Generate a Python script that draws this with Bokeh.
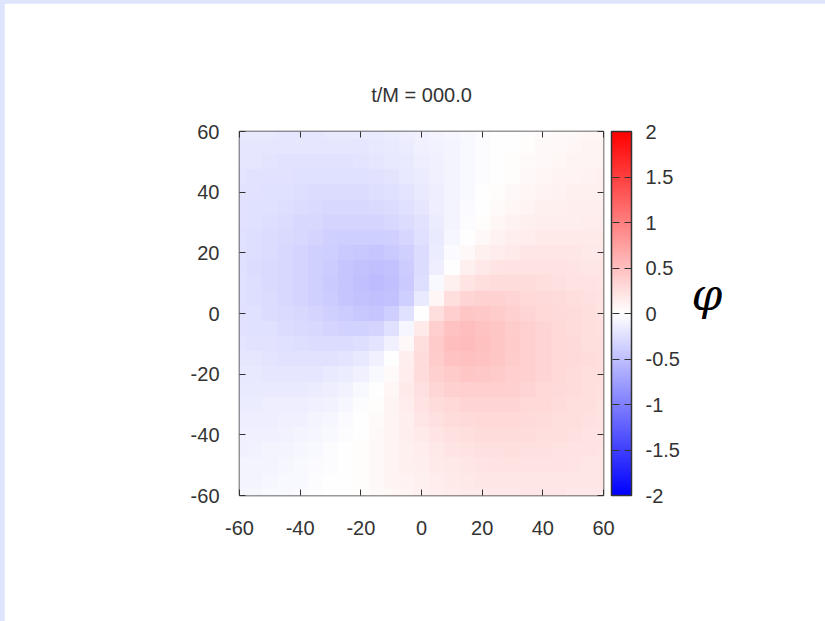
import numpy as np
from bokeh.plotting import figure
from bokeh.models import (LinearColorMapper, ColorBar, FixedTicker, LinearAxis,
                          CustomJSTickFormatter)
from bokeh.embed import file_html
from bokeh.resources import INLINE

# ---------------- data ----------------
title_text = "t/M = 000.0"
cbar_title = "φ"
axis_ticks = [-60, -40, -20, 0, 20, 40, 60]
cbar_ticks = [-2, -1.5, -1, -0.5, 0, 0.5, 1, 1.5, 2]
phi_low, phi_high = -2, 2

# sample points every 5 units
grid_x = [-60, -55, -50, -45, -40, -35, -30, -25, -20, -15, -10, -5, 0,
          5, 10, 15, 20, 25, 30, 35, 40, 45, 50, 55, 60]
grid_y = [60, 55, 50, 45, 40, 35, 30, 25, 20, 15, 10, 5, 0,
          -5, -10, -15, -20, -25, -30, -35, -40, -45, -50, -55, -60]

# phi read row by row (top row y=60 first); columns are x = -60 ... 60
phi_y60 = [-0.18, -0.18, -0.18, -0.19, -0.19, -0.19, -0.18, -0.18, -0.17, -0.16, -0.15, -0.13, -0.11, -0.09, -0.07, -0.05, -0.03, -0.01, 0.01, 0.02, 0.04, 0.05, 0.06, 0.07, 0.07]
phi_y55 = [-0.19, -0.19, -0.20, -0.20, -0.20, -0.20, -0.20, -0.20, -0.19, -0.18, -0.16, -0.15, -0.12, -0.10, -0.08, -0.05, -0.03, -0.01, 0.01, 0.03, 0.05, 0.06, 0.07, 0.08, 0.08]
phi_y50 = [-0.20, -0.20, -0.21, -0.22, -0.22, -0.22, -0.22, -0.22, -0.21, -0.20, -0.18, -0.16, -0.14, -0.11, -0.08, -0.05, -0.02, 0.00, 0.02, 0.04, 0.06, 0.07, 0.08, 0.09, 0.09]
phi_y45 = [-0.21, -0.22, -0.22, -0.23, -0.24, -0.24, -0.25, -0.24, -0.24, -0.23, -0.21, -0.18, -0.15, -0.12, -0.09, -0.05, -0.02, 0.01, 0.03, 0.05, 0.07, 0.08, 0.09, 0.10, 0.11]
phi_y40 = [-0.22, -0.23, -0.24, -0.25, -0.26, -0.27, -0.27, -0.27, -0.27, -0.26, -0.24, -0.21, -0.17, -0.13, -0.09, -0.05, -0.01, 0.02, 0.05, 0.07, 0.09, 0.10, 0.11, 0.11, 0.12]
phi_y35 = [-0.23, -0.24, -0.25, -0.26, -0.28, -0.29, -0.30, -0.30, -0.30, -0.29, -0.27, -0.24, -0.19, -0.14, -0.09, -0.04, 0.01, 0.04, 0.07, 0.09, 0.11, 0.12, 0.13, 0.13, 0.13]
phi_y30 = [-0.23, -0.25, -0.26, -0.28, -0.30, -0.31, -0.33, -0.34, -0.34, -0.34, -0.31, -0.27, -0.22, -0.15, -0.09, -0.02, 0.03, 0.07, 0.10, 0.12, 0.13, 0.14, 0.14, 0.15, 0.15]
phi_y25 = [-0.24, -0.26, -0.27, -0.29, -0.31, -0.34, -0.36, -0.38, -0.39, -0.38, -0.36, -0.32, -0.24, -0.16, -0.07, 0.00, 0.06, 0.10, 0.13, 0.15, 0.16, 0.16, 0.17, 0.16, 0.16]
phi_y20 = [-0.25, -0.26, -0.28, -0.30, -0.33, -0.36, -0.38, -0.41, -0.43, -0.44, -0.42, -0.36, -0.27, -0.15, -0.04, 0.05, 0.11, 0.15, 0.17, 0.19, 0.19, 0.19, 0.19, 0.18, 0.18]
phi_y15 = [-0.25, -0.27, -0.29, -0.31, -0.34, -0.37, -0.40, -0.44, -0.47, -0.49, -0.47, -0.40, -0.28, -0.13, 0.01, 0.11, 0.18, 0.21, 0.22, 0.23, 0.22, 0.22, 0.21, 0.20, 0.19]
phi_y10 = [-0.25, -0.26, -0.29, -0.31, -0.34, -0.37, -0.41, -0.45, -0.49, -0.52, -0.50, -0.42, -0.26, -0.06, 0.11, 0.21, 0.26, 0.28, 0.28, 0.27, 0.26, 0.24, 0.23, 0.22, 0.21]
phi_y5 = [-0.24, -0.26, -0.28, -0.30, -0.33, -0.36, -0.40, -0.44, -0.48, -0.50, -0.48, -0.38, -0.17, 0.07, 0.25, 0.33, 0.35, 0.35, 0.33, 0.31, 0.29, 0.27, 0.25, 0.24, 0.22]
phi_y0 = [-0.23, -0.25, -0.27, -0.29, -0.31, -0.34, -0.37, -0.40, -0.43, -0.44, -0.39, -0.25, 0.00, 0.25, 0.39, 0.44, 0.43, 0.40, 0.37, 0.34, 0.31, 0.29, 0.27, 0.25, 0.23]
phi_ym5 = [-0.22, -0.24, -0.25, -0.27, -0.29, -0.31, -0.33, -0.35, -0.35, -0.33, -0.25, -0.07, 0.17, 0.38, 0.48, 0.50, 0.48, 0.44, 0.40, 0.36, 0.33, 0.30, 0.28, 0.26, 0.24]
phi_ym10 = [-0.21, -0.22, -0.23, -0.24, -0.26, -0.27, -0.28, -0.28, -0.26, -0.21, -0.11, 0.06, 0.26, 0.42, 0.50, 0.52, 0.49, 0.45, 0.41, 0.37, 0.34, 0.31, 0.29, 0.26, 0.25]
phi_ym15 = [-0.19, -0.20, -0.21, -0.22, -0.22, -0.23, -0.22, -0.21, -0.18, -0.11, -0.01, 0.13, 0.28, 0.40, 0.47, 0.49, 0.47, 0.44, 0.40, 0.37, 0.34, 0.31, 0.29, 0.27, 0.25]
phi_ym20 = [-0.18, -0.18, -0.19, -0.19, -0.19, -0.19, -0.17, -0.15, -0.11, -0.05, 0.04, 0.15, 0.27, 0.36, 0.42, 0.44, 0.43, 0.41, 0.38, 0.36, 0.33, 0.30, 0.28, 0.26, 0.25]
phi_ym25 = [-0.16, -0.16, -0.17, -0.16, -0.16, -0.15, -0.13, -0.10, -0.06, 0.00, 0.07, 0.16, 0.24, 0.32, 0.36, 0.38, 0.39, 0.38, 0.36, 0.34, 0.31, 0.29, 0.27, 0.26, 0.24]
phi_ym30 = [-0.15, -0.15, -0.14, -0.14, -0.13, -0.12, -0.10, -0.07, -0.03, 0.02, 0.09, 0.15, 0.22, 0.27, 0.31, 0.34, 0.34, 0.34, 0.33, 0.31, 0.30, 0.28, 0.26, 0.25, 0.23]
phi_ym35 = [-0.13, -0.13, -0.13, -0.12, -0.11, -0.09, -0.07, -0.04, -0.01, 0.04, 0.09, 0.14, 0.19, 0.24, 0.27, 0.29, 0.30, 0.30, 0.30, 0.29, 0.28, 0.26, 0.25, 0.24, 0.23]
phi_ym40 = [-0.12, -0.11, -0.11, -0.10, -0.09, -0.07, -0.05, -0.02, 0.01, 0.05, 0.09, 0.13, 0.17, 0.21, 0.24, 0.26, 0.27, 0.27, 0.27, 0.27, 0.26, 0.25, 0.24, 0.23, 0.22]
phi_ym45 = [-0.11, -0.10, -0.09, -0.08, -0.07, -0.05, -0.03, -0.01, 0.02, 0.05, 0.09, 0.12, 0.15, 0.18, 0.21, 0.23, 0.24, 0.24, 0.25, 0.24, 0.24, 0.23, 0.22, 0.22, 0.21]
phi_ym50 = [-0.09, -0.09, -0.08, -0.07, -0.06, -0.04, -0.02, 0.00, 0.02, 0.05, 0.08, 0.11, 0.14, 0.16, 0.18, 0.20, 0.21, 0.22, 0.22, 0.22, 0.22, 0.22, 0.21, 0.20, 0.20]
phi_ym55 = [-0.08, -0.08, -0.07, -0.06, -0.05, -0.03, -0.01, 0.01, 0.03, 0.05, 0.08, 0.10, 0.12, 0.15, 0.16, 0.18, 0.19, 0.20, 0.20, 0.20, 0.20, 0.20, 0.20, 0.19, 0.19]
phi_ym60 = [-0.07, -0.07, -0.06, -0.05, -0.04, -0.02, -0.01, 0.01, 0.03, 0.05, 0.07, 0.09, 0.11, 0.13, 0.15, 0.16, 0.17, 0.18, 0.18, 0.19, 0.19, 0.19, 0.18, 0.18, 0.18]

rows_top_to_bottom = [phi_y60, phi_y55, phi_y50, phi_y45, phi_y40, phi_y35, phi_y30,
                      phi_y25, phi_y20, phi_y15, phi_y10, phi_y5, phi_y0,
                      phi_ym5, phi_ym10, phi_ym15, phi_ym20, phi_ym25, phi_ym30,
                      phi_ym35, phi_ym40, phi_ym45, phi_ym50, phi_ym55, phi_ym60]
field = np.flipud(np.array(rows_top_to_bottom, dtype=float))  # row 0 = bottom

# ---------------- colour map: blue -> white -> red ----------------
palette = []
for i in range(256):
    t = i / 255 * 2 - 1
    if t < 0:
        c = int(round(255 * (1 + t)))
        palette.append("#%02x%02xff" % (c, c))
    else:
        c = int(round(255 * (1 - t)))
        palette.append("#ff%02x%02x" % (c, c))
mapper = LinearColorMapper(palette=palette, low=phi_low, high=phi_high)

FONT = "Liberation Sans"
FS = "20px"
TXT = "#333333"
LINE = "#333333"
plain = CustomJSTickFormatter(code="return tick.toString()")
blank = CustomJSTickFormatter(code="return ''")

dx = grid_x[1] - grid_x[0]
dy = grid_y[0] - grid_y[1]

p = figure(x_range=(grid_x[0], grid_x[-1]), y_range=(grid_y[-1], grid_y[0]),
           frame_width=364, frame_height=364,
           min_border_left=235, min_border_top=128, min_border_right=222, min_border_bottom=126,
           output_backend="svg", toolbar_location=None,
           background_fill_color="white", border_fill_color="white")
p.margin = (3, 0, 0, 4)

p.image(image=[field], x=grid_x[0] - dx / 2, y=grid_y[-1] - dy / 2,
        dw=(grid_x[-1] - grid_x[0]) + dx, dh=(grid_y[0] - grid_y[-1]) + dy,
        color_mapper=mapper)

p.grid.visible = False
p.outline_line_color = LINE
p.outline_line_width = 1.5

p.title.text = title_text
p.title.align = "center"
p.title.text_font = FONT
p.title.text_font_size = FS
p.title.text_font_style = "normal"
p.title.text_color = TXT
p.title.standoff = 52


def style_axis(ax, show_labels=True):
    ax.ticker = FixedTicker(ticks=axis_ticks)
    ax.major_tick_in = 6
    ax.major_tick_out = 0
    ax.minor_tick_line_color = None
    ax.axis_line_color = None
    ax.major_tick_line_color = LINE
    ax.major_tick_line_width = 1
    ax.major_label_text_font = FONT
    ax.major_label_text_font_size = FS
    ax.major_label_text_color = TXT
    if show_labels:
        ax.formatter = plain
    else:
        ax.formatter = blank
        ax.major_label_text_font_size = "0px"
        ax.major_label_standoff = 0


style_axis(p.xaxis[0])
style_axis(p.yaxis[0])
p.xaxis[0].major_label_standoff = 25
p.yaxis[0].major_label_standoff = 20

top_ax = LinearAxis()
style_axis(top_ax, show_labels=False)
p.add_layout(top_ax, "above")
right_ax = LinearAxis()
style_axis(right_ax, show_labels=False)
p.add_layout(right_ax, "right")

cb = ColorBar(color_mapper=mapper, ticker=FixedTicker(ticks=cbar_ticks), formatter=plain,
              width=20, height=364, padding=8, margin=0, location=(0, -8),
              bar_line_color=LINE, bar_line_width=1.5,
              major_tick_in=20, major_tick_out=0,
              major_tick_line_color=LINE, major_tick_line_dash="7 5",
              minor_tick_line_color=None,
              major_label_text_font=FONT, major_label_text_font_size=FS,
              major_label_text_color=TXT, label_standoff=14,
              background_fill_color=None, border_line_color=None)
p.add_layout(cb, "right")

# axis used only to carry the colour-bar quantity symbol
phi_ax = LinearAxis(axis_label=cbar_title + "\n", axis_label_orientation="horizontal",
                    axis_label_text_font="DejaVu Serif", axis_label_text_font_style="italic",
                    axis_label_text_font_size="44px", axis_label_text_color="black",
                    axis_label_text_line_height=0.75,
                    axis_label_standoff=1)
phi_ax.ticker = FixedTicker(ticks=[])
phi_ax.formatter = blank
phi_ax.major_label_text_font_size = "0px"
phi_ax.major_label_standoff = 0
phi_ax.major_tick_line_color = None
phi_ax.minor_tick_line_color = None
phi_ax.axis_line_color = None
p.add_layout(phi_ax, "right")

html = file_html(p, INLINE)
html = html.replace("</head>",
                    "<style>html,body{margin:0;padding:0;background:#dde4fc;}</style></head>", 1)
open("out.html", "w").write(html)
